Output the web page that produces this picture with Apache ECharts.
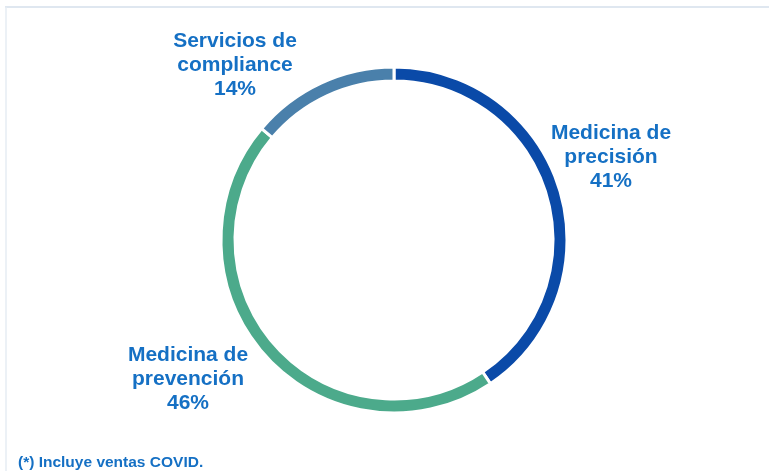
<!DOCTYPE html>
<html>
<head>
<meta charset="utf-8">
<script src="https://cdn.jsdelivr.net/npm/echarts@6/dist/echarts.min.js"></script>
<style>
html,body{margin:0;padding:0;background:#fff;}
#c{width:769px;height:471px;}
</style>
</head>
<body>
<div id="c"></div>
<script>
const categories = ['Medicina de\nprecisión', 'Medicina de\nprevención', 'Servicios de\ncompliance'];
const values = [41, 46, 14];
const colors = ['#0a4aa8', '#4caa8b', '#4a80ab'];
const footnote = '(*) Incluye ventas COVID.';
const labelPos = [[611, 157], [188, 379], [235, 65]];

const chart = echarts.init(document.getElementById('c'), null, {renderer: 'canvas'});
chart.setOption({
  animation: false,
  backgroundColor: '#ffffff',
  graphic: [
    {type: 'line', shape: {x1: 5, y1: 7, x2: 769, y2: 7}, style: {stroke: '#dfe7f0', lineWidth: 2}},
    {type: 'line', shape: {x1: 6, y1: 7, x2: 6, y2: 471}, style: {stroke: '#e6ecf3', lineWidth: 1.5}},
    {type: 'text', left: 18, top: 455, style: {text: footnote, fill: '#1570c4', font: 'bold 15.5px "Liberation Sans", Arial, sans-serif'}}
  ],
  series: [{
    type: 'pie',
    center: [394, 240],
    radius: [159, 173],
    startAngle: 90,
    clockwise: true,
    data: categories.map((n, i) => ({name: n, value: values[i], itemStyle: {color: colors[i]}})),
    itemStyle: {borderColor: '#ffffff', borderWidth: 3},
    label: {
      show: true,
      position: 'outside',
      formatter: p => p.name + '\n' + p.value + '%',
      color: '#1570c4',
      fontFamily: '"Liberation Sans", Arial, sans-serif',
      fontWeight: 'bold',
      fontSize: 21,
      lineHeight: 24,
      align: 'center'
    },
    labelLine: {show: false},
    labelLayout: function (p) {
      const pos = labelPos[p.dataIndex];
      return {x: pos[0], y: pos[1], align: 'center', verticalAlign: 'middle'};
    },
    emphasis: {disabled: true}
  }]
});
</script>
</body>
</html>
